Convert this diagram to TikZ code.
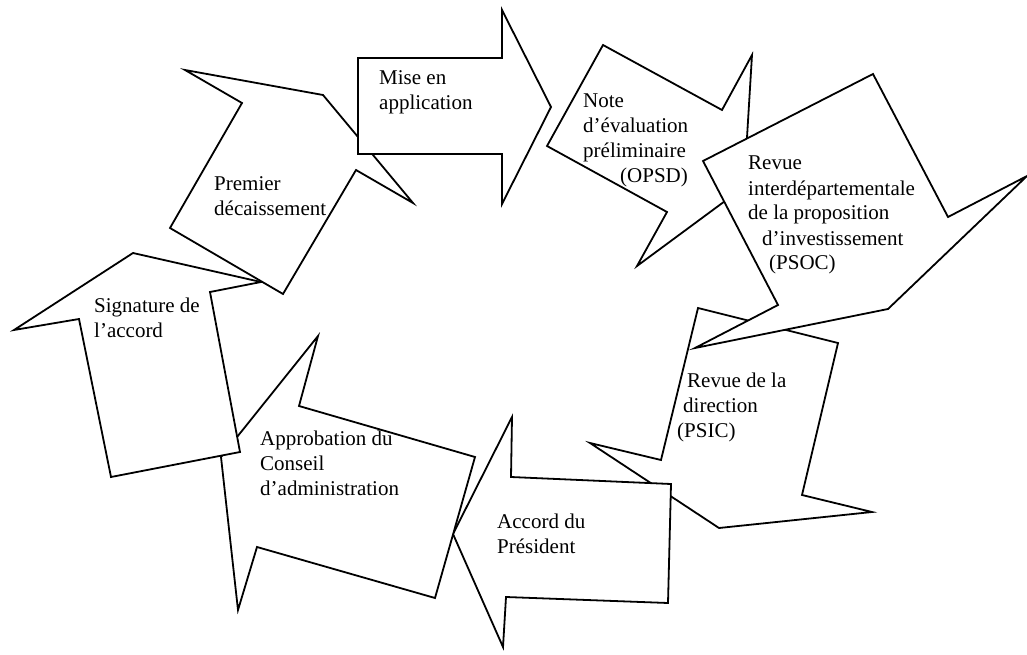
\documentclass[tikz,border=0pt]{standalone}
\usepackage{fontspec}
\setmainfont{Liberation Serif}
\begin{document}
\begin{tikzpicture}[x=1pt,y=-1pt,
  arrowshape/.style={draw=black, fill=white, line width=1.8pt, line join=miter},
  lbl/.style={anchor=base west, inner sep=0pt, font=\fontsize{21}{25}\selectfont}]
\useasboundingbox (0,0) rectangle (1027,655);
% PSIC
\draw[arrowshape] (698,308) -- (838,343) -- (802,495) -- (872,512) -- (719,528) -- (590,443) -- (661,460) -- cycle;
% Accord
\draw[arrowshape] (512,417) -- (511,477) -- (671,484) -- (668,603) -- (506,597) -- (503,647) -- (453,534) -- cycle;
% Approbation
\draw[arrowshape] (318,336) -- (299,406) -- (475,457) -- (435,598) -- (257,547) -- (238,610) -- (221,457) -- cycle;
% Signature
\draw[arrowshape] (133,253) -- (261,282) -- (210,292) -- (240,452) -- (111,477) -- (79,319) -- (14,330) -- cycle;
% Premier
\draw[arrowshape] (185,70) -- (323,95) -- (413,203) -- (356,170) -- (283,294) -- (170,228) -- (242,103) -- cycle;
% Mise
\draw[arrowshape] (358,58) -- (502,58) -- (502,10) -- (551,107) -- (502,204) -- (502,154) -- (358,154) -- cycle;
% Note
\draw[arrowshape] (603,45) -- (722,110) -- (752,55) -- (744,187) -- (637,266) -- (667,212) -- (547,146) -- cycle;
% PSOC
\draw[arrowshape] (703,161) -- (873,74) -- (948,217) -- (1027,176) -- (888,309) -- (695,348) -- (778,305) -- cycle;

\node[lbl] (mise) at (379,85) {\begin{tabular}[t]{@{}l@{}}Mise en\\application\end{tabular}};
\node[lbl] (premier) at (214,190) {\begin{tabular}[t]{@{}l@{}}Premier\\décaissement\end{tabular}};
\node[lbl] (note) at (583,108) {\begin{tabular}[t]{@{}l@{}}Note\\d’évaluation\\préliminaire\\\hspace*{37pt}(OPSD)\end{tabular}};
\node[lbl] (psoc) at (748,170) {\begin{tabular}[t]{@{}l@{}}Revue\\interdépartementale\\de la proposition\\\hspace*{14pt}d’investissement\\\hspace*{21pt}(PSOC)\end{tabular}};
\node[lbl] (psic) at (677,387) {\begin{tabular}[t]{@{}l@{}}\hspace*{10pt}Revue de la\\\hspace*{6pt}direction\\(PSIC)\end{tabular}};
\node[lbl] (accord) at (497,528) {\begin{tabular}[t]{@{}l@{}}Accord du\\Président\end{tabular}};
\node[lbl] (approb) at (260,445) {\begin{tabular}[t]{@{}l@{}}Approbation du\\Conseil\\d’administration\end{tabular}};
\node[lbl] (sign) at (94,312) {\begin{tabular}[t]{@{}l@{}}Signature de\\l’accord\end{tabular}};
\end{tikzpicture}
\end{document}
